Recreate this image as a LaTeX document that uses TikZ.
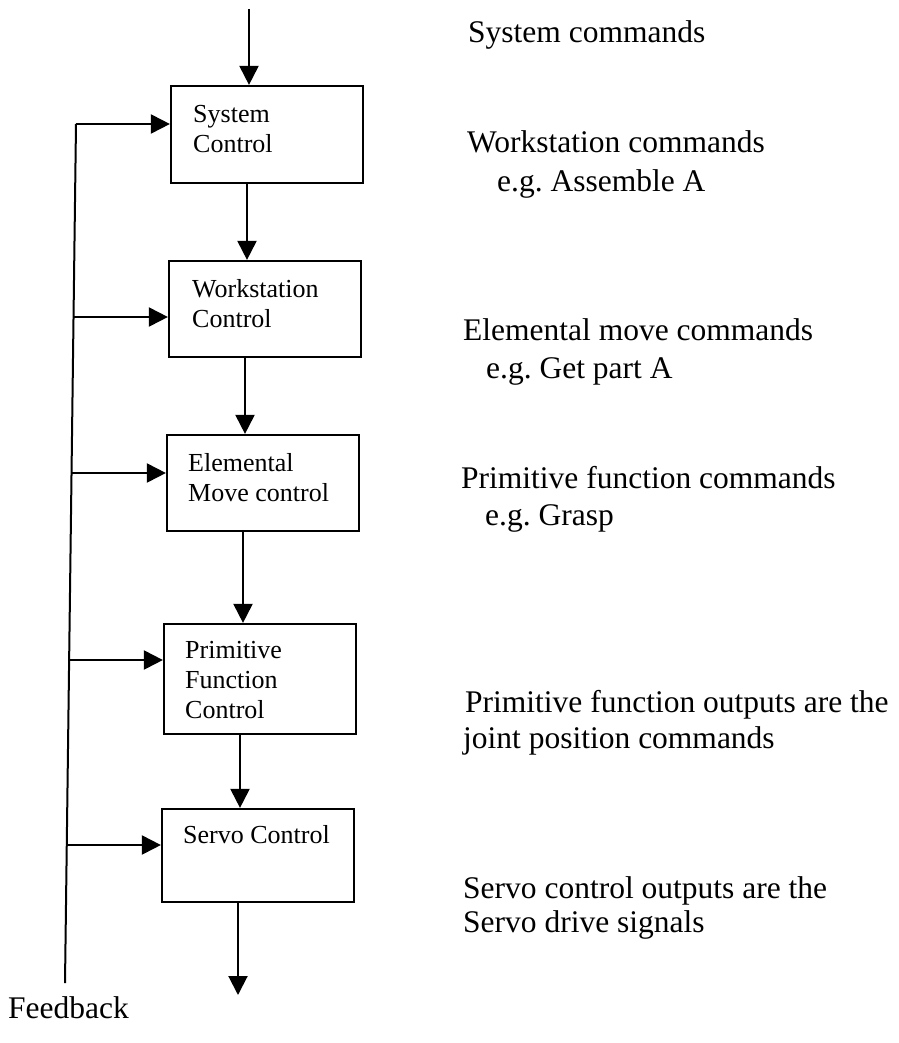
\documentclass[tikz,border=0pt]{standalone}
\usepackage{fontspec}
\setmainfont{Liberation Serif}
\usetikzlibrary{arrows.meta}
\frenchspacing
\tikzset{
  blk/.style={draw, line width=2.2pt, minimum width=192pt, inner sep=0pt},
  arr/.style={line width=2pt, -{Triangle[length=19pt,width=19pt]}},
  ln/.style={line width=2pt},
  big/.style={anchor=base west, inner sep=0pt, font=\fontsize{31.5}{37}\selectfont},
  small/.style={anchor=base west, inner sep=0pt, font=\fontsize{26}{30}\selectfont},
}
\begin{document}
\begin{tikzpicture}[x=1pt,y=-1pt]
\fill[white] (0,0) rectangle (898,1043);
\useasboundingbox (0,0) rectangle (898,1043);

% boxes
\node[blk, minimum height=97pt] (b1) at (267,134.5) {};
\node[blk, minimum height=96pt] (b2) at (265,309) {};
\node[blk, minimum height=96pt] (b3) at (263,483) {};
\node[blk, minimum height=110pt] (b4) at (260,679) {};
\node[blk, minimum height=93pt] (b5) at (258,855.5) {};

% box texts
\node[small] (s1a) at (193,123) {System};
\node[small] (s1b) at (193,153) {Control};
\node[small] (s2a) at (192,297) {Workstation};
\node[small] (s2b) at (192,327) {Control};
\node[small] (s3a) at (188,471) {Elemental};
\node[small] (s3b) at (188,501) {Move control};
\node[small] (s4a) at (185,658) {Primitive};
\node[small] (s4b) at (185,688) {Function};
\node[small] (s4c) at (185,718) {Control};
\node[small] (s5a) at (183,843) {Servo Control};

% main flow
\coordinate (in) at (249,9);
\coordinate (out) at (238,995);
\draw[arr] (in) -- (in |- b1.north);
\draw[arr] ([xshift=-20pt]b1.south) -- ([xshift=-20pt]b1.south |- b2.north);
\draw[arr] ([xshift=-20pt]b2.south) -- ([xshift=-20pt]b2.south |- b3.north);
\draw[arr] ([xshift=-20pt]b3.south) -- ([xshift=-20pt]b3.south |- b4.north);
\draw[arr] ([xshift=-20pt]b4.south) -- ([xshift=-20pt]b4.south |- b5.north);
\draw[arr] ([xshift=-20pt]b5.south) -- (out);

% feedback
\coordinate (fb0) at (65,983);
\coordinate (f1) at (76,124);
\coordinate (f2) at (73.5,317);
\coordinate (f3) at (71.5,473);
\coordinate (f4) at (69,660);
\coordinate (f5) at (67,845);
\draw[ln] (fb0) -- (f1);
\draw[arr] (f1) -- (f1 -| b1.west);
\draw[arr] (f2) -- (f2 -| b2.west);
\draw[arr] (f3) -- (f3 -| b3.west);
\draw[arr] (f4) -- (f4 -| b4.west);
\draw[arr] (f5) -- (f5 -| b5.west);
\node[big] (fbl) at (8,1018) {Feedback};

% right texts
\node[big] (r1) at (468,43) {System commands};
\node[big] (r2a) at (467,153) {Workstation commands};
\node[big] (r2b) at (497,192) {e.g. Assemble A};
\node[big] (r3a) at (463,340) {Elemental move commands};
\node[big] (r3b) at (486,378) {e.g. Get part A};
\node[big] (r4a) at (461,488) {Primitive function commands};
\node[big] (r4b) at (485,525) {e.g. Grasp};
\node[big] (r5a) at (465,712) {Primitive function outputs are the};
\node[big] (r5b) at (463,748) {joint position commands};
\node[big] (r6a) at (463,898) {Servo control outputs are the};
\node[big] (r6b) at (463,932) {Servo drive signals};
\end{tikzpicture}
\end{document}
